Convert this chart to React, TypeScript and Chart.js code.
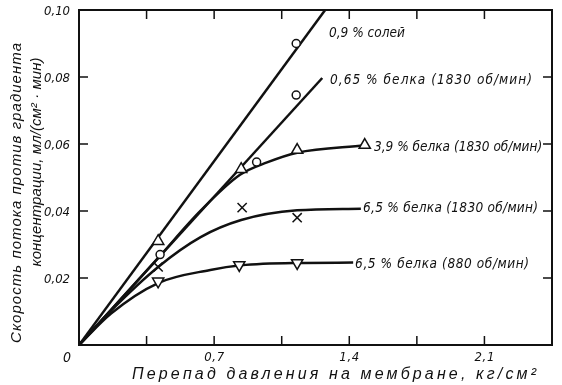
import React, { useEffect, useRef } from "react";
import { Chart, registerables } from "chart.js";

Chart.register(...registerables);

// ---- axes ----
const X_MIN = 0;
const X_MAX = 2.45;
const Y_MIN = 0;
const Y_MAX = 0.1;
const xTickValues = [0.35, 0.7, 1.05, 1.4, 1.75, 2.1];
const xTickLabels = ["", "0,7", "", "1,4", "", "2,1"];
const yTickValues = [0.02, 0.04, 0.06, 0.08, 0.1];
const yTickLabels = ["0,02", "0,04", "0,06", "0,08", "0,10"];
const originLabel = "0";

const xTitle = "Перепад давления на мембране, кг/см²";
const yTitleLines = ["Скорость потока против градиента", "концентрации, мл/(см² · мин)"];

// ---- fitted curves ----
const saltX = [0, 1.275];
const saltY = [0, 0.1];
const prot065X = [0, 1.26];
const prot065Y = [0, 0.0797];
const prot39X = [0, 0.41, 0.63, 0.834, 0.974, 1.13, 1.48];
const prot39Y = [0, 0.026, 0.0401, 0.0508, 0.0545, 0.0574, 0.0596];
const prot65fastX = [0, 0.17, 0.41, 0.63, 0.84, 1.13, 1.46];
const prot65fastY = [0, 0.0105, 0.0233, 0.0322, 0.0373, 0.0402, 0.0407];
const prot65slowX = [0, 0.166, 0.41, 0.68, 0.84, 1.13, 1.42];
const prot65slowY = [0, 0.0094, 0.0185, 0.0224, 0.0238, 0.0245, 0.0246];

// ---- measured points ----
const circleX = [0.42, 0.92, 1.125, 1.125];
const circleY = [0.027, 0.0546, 0.0746, 0.09];
const triUpX = [0.41, 0.84, 1.13, 1.48];
const triUpY = [0.031, 0.0525, 0.0582, 0.0597];
const crossX = [0.41, 0.845, 1.13];
const crossY = [0.0233, 0.041, 0.038];
const triDownX = [0.41, 0.83, 1.13];
const triDownY = [0.019, 0.0239, 0.0245];

// ---- curve labels (anchor in data units) ----
const curveLabels = [
  "0,9 % солей",
  "0,65 % белка (1830 об/мин)",
  "3,9 % белка (1830 об/мин)",
  "6,5 % белка (1830 об/мин)",
  "6,5 % белка (880 об/мин)",
];
const labelAnchorX = [1.295, 1.3, 1.528, 1.471, 1.43];
const labelAnchorY = [0.0931, 0.0791, 0.0591, 0.0406, 0.0239];
const labelWidths = [69, 202, 165, 175, 174];

const NARROW = "'Liberation Sans Narrow', 'DejaVu Sans Condensed', 'Liberation Sans', sans-serif";
const WIDE = "'Liberation Sans', 'DejaVu Sans', sans-serif";
const INK = "#111111";

const pts = (xs: number[], ys: number[]) => xs.map((x, i) => ({ x, y: ys[i] }));

function fitText(
  ctx: CanvasRenderingContext2D,
  text: string,
  x: number,
  y: number,
  width: number,
  size: number,
  family: string = NARROW
) {
  ctx.font = `italic ${size}px ${family}`;
  (ctx as any).letterSpacing = "0px";
  const w = ctx.measureText(text).width;
  const n = [...text].length;
  const s = n > 1 ? Math.max(0, (width - w) / (n - 1)) : 0;
  (ctx as any).letterSpacing = `${s}px`;
  ctx.textAlign = "left";
  ctx.textBaseline = "middle";
  ctx.fillText(text, x, y);
  (ctx as any).letterSpacing = "0px";
}

const framePlugin = {
  id: "frame",
  beforeDraw(chart: any) {
    const ctx = chart.ctx as CanvasRenderingContext2D;
    ctx.save();
    ctx.fillStyle = "#ffffff";
    ctx.fillRect(0, 0, chart.width, chart.height);
    ctx.restore();
  },
  afterDraw(chart: any) {
    const ctx = chart.ctx as CanvasRenderingContext2D;
    const { left, right, top, bottom } = chart.chartArea;
    const xs = chart.scales.x;
    const ys = chart.scales.y;
    ctx.save();
    ctx.strokeStyle = INK;
    ctx.fillStyle = INK;
    ctx.lineWidth = 2;
    ctx.strokeRect(left, top, right - left, bottom - top);

    const tl = 9;
    ctx.lineWidth = 1.5;
    ctx.beginPath();
    xTickValues.forEach((v) => {
      const px = xs.getPixelForValue(v);
      ctx.moveTo(px, bottom);
      ctx.lineTo(px, bottom - tl);
      ctx.moveTo(px, top);
      ctx.lineTo(px, top + tl);
    });
    yTickValues.forEach((v) => {
      if (v >= Y_MAX) return;
      const py = ys.getPixelForValue(v);
      ctx.moveTo(left, py);
      ctx.lineTo(left + tl, py);
      ctx.moveTo(right, py);
      ctx.lineTo(right - tl, py);
    });
    ctx.stroke();

    // tick labels
    yTickValues.forEach((v, i) => {
      const py = ys.getPixelForValue(v);
      fitText(ctx, yTickLabels[i], left - 11 - 24, py + 2, 24, 13);
    });
    xTickValues.forEach((v, i) => {
      const t = xTickLabels[i];
      if (!t) return;
      const px = xs.getPixelForValue(v);
      fitText(ctx, t, px - 10, bottom + 13, 20, 13);
    });
    fitText(ctx, originLabel, left - 16, bottom + 13, 7, 14);

    // axis titles
    fitText(ctx, xTitle, 132, bottom + 30, 404, 16, WIDE);
    const centers = [
      { x: 17, y: 193, w: 300 },
      { x: 37, y: 162, w: 209 },
    ];
    yTitleLines.forEach((line, i) => {
      const c = centers[i];
      ctx.save();
      ctx.translate(c.x, c.y);
      ctx.rotate(-Math.PI / 2);
      fitText(ctx, line, -c.w / 2, 0, c.w, 15, WIDE);
      ctx.restore();
    });

    // curve labels
    curveLabels.forEach((t, i) => {
      const px = xs.getPixelForValue(labelAnchorX[i]);
      const py = ys.getPixelForValue(labelAnchorY[i]);
      fitText(ctx, t, px, py, labelWidths[i], 13.5);
    });
    ctx.restore();
  },
};

export default function App() {
  const ref = useRef<HTMLCanvasElement | null>(null);
  useEffect(() => {
    if (!ref.current) return;
    const line = (xs: number[], ys: number[], smooth: boolean) => ({
      data: pts(xs, ys),
      showLine: true,
      borderColor: INK,
      borderWidth: 2.5,
      pointRadius: 0,
      fill: false,
      tension: 0,
      cubicInterpolationMode: smooth ? "monotone" : "default",
      order: 2,
    });
    const marks = (xs: number[], ys: number[], style: string, r: number, rot = 0) => ({
      data: pts(xs, ys),
      showLine: false,
      pointStyle: style,
      pointRadius: r,
      pointRotation: rot,
      pointBorderWidth: 1.5,
      borderColor: INK,
      backgroundColor: "#ffffff",
      order: 1,
    });
    const chart = new Chart(ref.current, {
      type: "scatter",
      data: {
        datasets: [
          line(saltX, saltY, false),
          line(prot065X, prot065Y, false),
          line(prot39X, prot39Y, true),
          line(prot65fastX, prot65fastY, true),
          line(prot65slowX, prot65slowY, true),
          marks(circleX, circleY, "circle", 4),
          marks(triUpX, triUpY, "triangle", 6.5),
          marks(crossX, crossY, "crossRot", 6.5),
          marks(triDownX, triDownY, "triangle", 6.5, 180),
        ] as any,
      },
      options: {
        animation: false,
        responsive: false,
        maintainAspectRatio: false,
        devicePixelRatio: 1,
        layout: { padding: { left: 79, right: 10, top: 10, bottom: 40 } },
        plugins: { legend: { display: false }, tooltip: { enabled: false } },
        scales: {
          x: { type: "linear", min: X_MIN, max: X_MAX, display: false },
          y: { type: "linear", min: Y_MIN, max: Y_MAX, display: false },
        },
      },
      plugins: [framePlugin],
    });
    return () => chart.destroy();
  }, []);
  return (
    <div style={{ position: "fixed", left: 0, top: 0, width: 562, height: 385, background: "#fff" }}>
      <canvas ref={ref} width={562} height={385} style={{ display: "block", width: 562, height: 385 }} />
    </div>
  );
}
